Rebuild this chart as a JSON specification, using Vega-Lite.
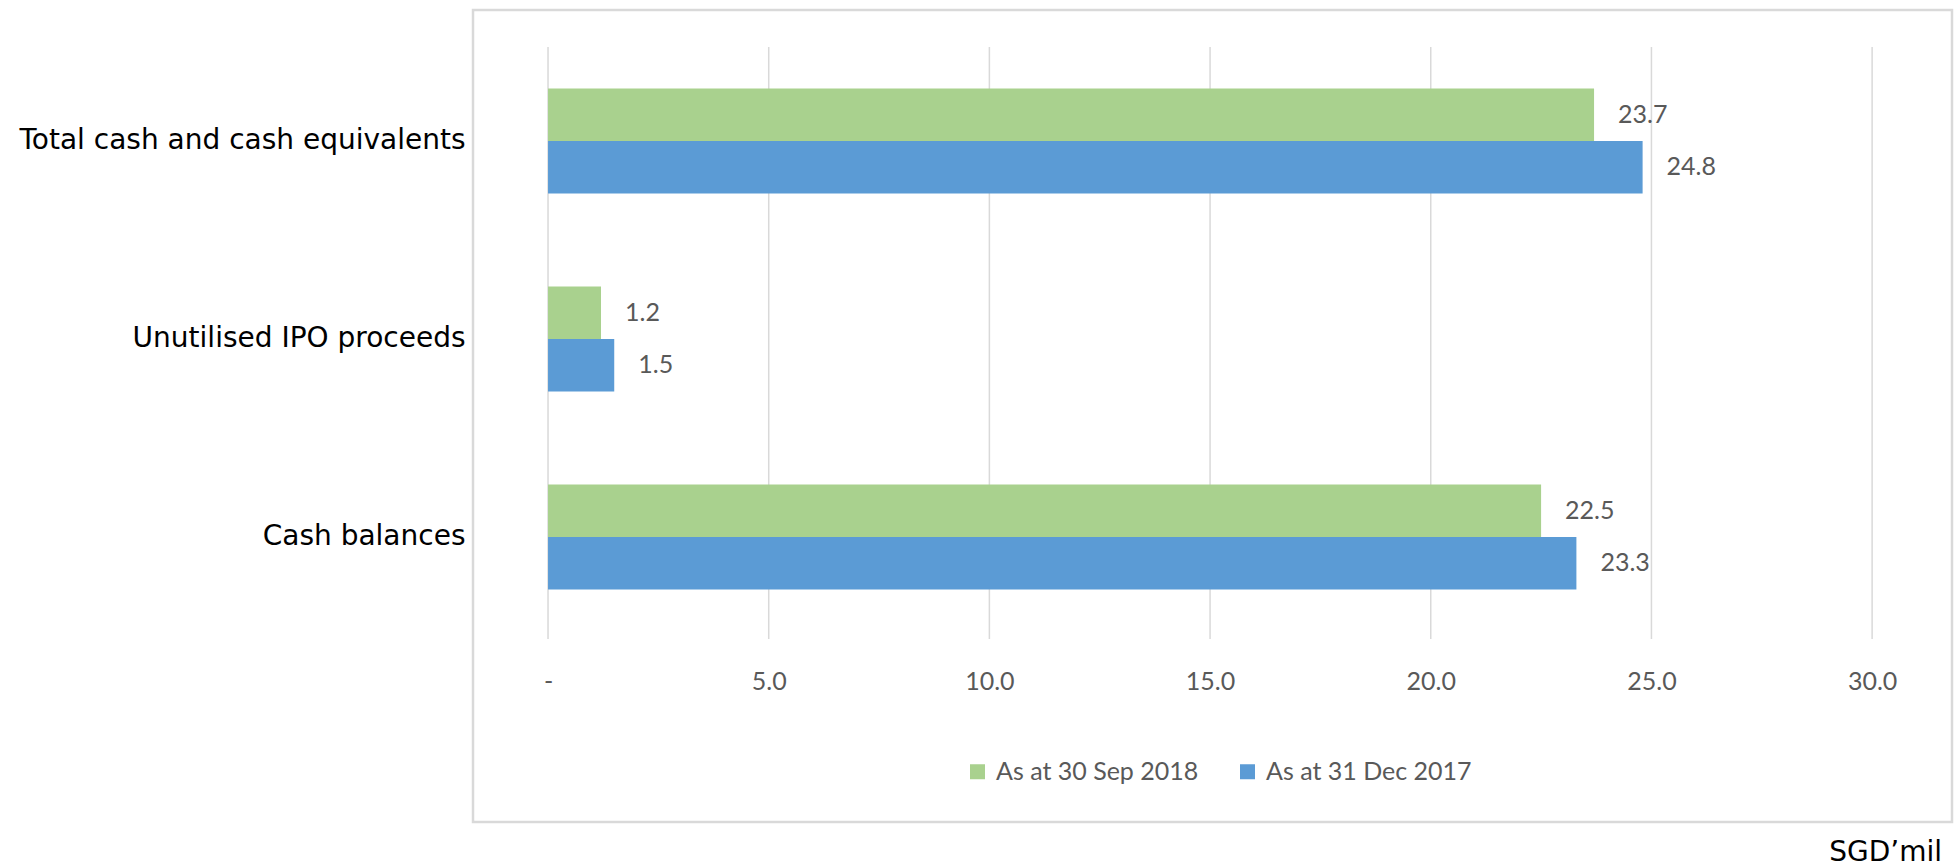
{
  "$schema": "https://vega.github.io/schema/vega-lite/v6.json",
  "width": 1479,
  "height": 812,
  "autosize": {"type": "none"},
  "padding": {"left": 473, "top": 10, "right": 6, "bottom": 45},
  "background": "white",
  "config": {
    "view": {"stroke": "#d9d9d9", "strokeWidth": 2.5},
    "font": "Lato"
  },
  "title": {
    "text": "SGD’mil",
    "orient": "bottom",
    "anchor": "end",
    "font": "DejaVu Sans",
    "fontSize": 28,
    "fontWeight": "normal",
    "color": "#000000",
    "offset": 17,
    "dx": -10
  },
  "data": {
    "values": [
      {"category": "Total cash and cash equivalents", "series": "As at 30 Sep 2018", "value": 23.7},
      {"category": "Total cash and cash equivalents", "series": "As at 31 Dec 2017", "value": 24.8},
      {"category": "Unutilised IPO proceeds", "series": "As at 30 Sep 2018", "value": 1.2},
      {"category": "Unutilised IPO proceeds", "series": "As at 31 Dec 2017", "value": 1.5},
      {"category": "Cash balances", "series": "As at 30 Sep 2018", "value": 22.5},
      {"category": "Cash balances", "series": "As at 31 Dec 2017", "value": 23.3}
    ]
  },
  "layer": [
    {
      "data": {"values": [{"tick": 0}, {"tick": 5}, {"tick": 10}, {"tick": 15}, {"tick": 20}, {"tick": 25}, {"tick": 30}]},
      "mark": {"type": "rule", "color": "#d9d9d9", "strokeWidth": 1.5},
      "encoding": {
        "x": {"field": "tick", "type": "quantitative", "title": null},
        "y": {"datum": "Total cash and cash equivalents", "type": "nominal", "bandPosition": 0.025},
        "y2": {"datum": "Cash balances", "bandPosition": 1.015}
      }
    },
    {
      "mark": {"type": "bar"},
      "encoding": {
        "y": {
          "field": "category",
          "type": "nominal",
          "title": null,
          "scale": {
            "domain": ["Total cash and cash equivalents", "Unutilised IPO proceeds", "Cash balances"],
            "paddingInner": 0,
            "paddingOuter": 0.5505,
            "align": 0.147
          },
          "axis": {
            "ticks": false,
            "domain": false,
            "labelFont": "DejaVu Sans",
            "labelFontSize": 28,
            "labelColor": "#000000",
            "labelPadding": 8,
            "labelLimit": 800
          }
        },
        "yOffset": {
          "field": "series",
          "type": "nominal",
          "scale": {
            "domain": ["As at 30 Sep 2018", "As at 31 Dec 2017"],
            "paddingInner": 0,
            "paddingOuter": 0.886
          }
        },
        "x": {
          "field": "value",
          "type": "quantitative",
          "title": null,
          "scale": {"domain": [-1.7, 31.81], "nice": false, "zero": false},
          "axis": {
            "values": [0, 5, 10, 15, 20, 25, 30],
            "grid": false,
            "ticks": false,
            "tickSize": 0,
            "domain": false,
            "offset": -141,
            "labelBaseline": "middle",
            "labelPadding": 0,
            "labelFont": "Lato",
            "labelFontSize": 25,
            "labelColor": "#595959",
            "labelExpr": "datum.value == 0 ? '-' : format(datum.value, '.1f')"
          }
        },
        "x2": {"datum": 0},
        "color": {
          "field": "series",
          "type": "nominal",
          "scale": {
            "domain": ["As at 30 Sep 2018", "As at 31 Dec 2017"],
            "range": ["#a9d18e", "#5b9bd5"]
          },
          "legend": {
            "orient": "none",
            "legendX": 492,
            "legendY": 749,
            "direction": "horizontal",
            "title": null,
            "symbolType": "square",
            "symbolSize": 225,
            "symbolStrokeWidth": 0,
            "labelFont": "Lato",
            "labelFontSize": 25,
            "labelColor": "#595959",
            "labelOffset": 6,
            "labelLimit": 600,
            "columnPadding": 36
          }
        }
      }
    },
    {
      "mark": {"type": "text", "align": "left", "baseline": "middle", "dx": 24, "font": "Lato", "fontSize": 25, "color": "#595959"},
      "encoding": {
        "y": {"field": "category", "type": "nominal"},
        "yOffset": {"field": "series", "type": "nominal"},
        "x": {"field": "value", "type": "quantitative", "title": null},
        "text": {"field": "value", "type": "quantitative", "format": ".1f"}
      }
    }
  ]
}
